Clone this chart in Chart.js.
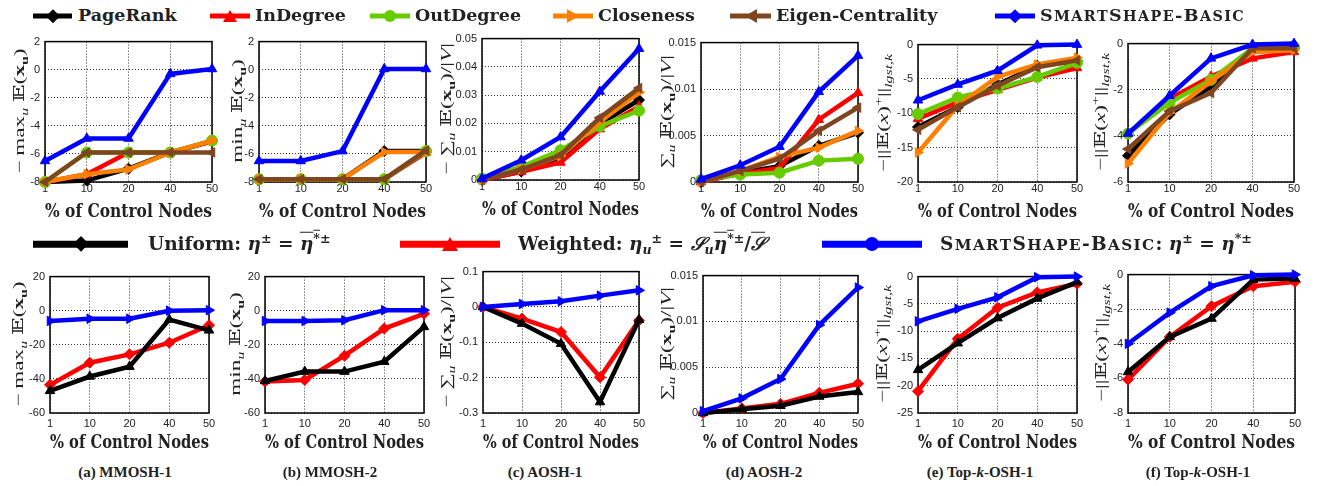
<!DOCTYPE html>
<html><head><meta charset="utf-8">
<script src="https://cdn.jsdelivr.net/npm/chart.js@4.4.0/dist/chart.umd.min.js"></script>
<style>
body{margin:0;width:1327px;height:486px;background:#fff;position:relative;overflow:hidden;color:#222}
canvas{position:absolute}
.lg{position:absolute;font-family:"DejaVu Serif",serif;font-weight:bold;font-size:17.5px;white-space:nowrap;line-height:1;transform:translateY(-50%);color:#222}
.lg2{font-size:18.5px}
.ln{position:absolute;transform:translateY(-50%)}
.mk{position:absolute;transform:translate(-50%,-50%)}
.yl{position:absolute;font-family:"Liberation Serif","DejaVu Serif",serif;font-size:15px;white-space:nowrap;transform:translate(-50%,-50%) rotate(-90deg) scaleX(1.55);color:#222;line-height:1}
.yl sub,.yl sup,.lg sub,.lg sup{font-size:0.68em;line-height:0}
.cap{position:absolute;font-family:"Liberation Serif",serif;font-weight:bold;font-size:15px;white-space:nowrap;transform:translate(-50%,-50%);color:#222}
.ov{text-decoration:overline}
.sc{font-size:0.82em}
.scw{letter-spacing:1.4px}
</style></head><body>
<script>
// ---------- data ----------
const xLabels = ['1', '10', '20', '40', '50'];
const methodNames = ['PageRank', 'InDegree', 'OutDegree', 'Closeness', 'Eigen-Centrality', 'SmartShape-Basic'];
const shapeNames = ['Uniform', 'Weighted', 'SmartShape-Basic'];
const captions = ['(a) MMOSH-1', '(b) MMOSH-2', '(c) AOSH-1', '(d) AOSH-2', '(e) Top-<i>k</i>-OSH-1', '(f) Top-<i>k</i>-OSH-1'];

// top row: centrality baselines
const mmosh1PageRank  = [-8, -7.9, -7.05, -5.9, -5.1];
const mmosh1InDegree  = [-8, -7.45, -5.9, -5.9, -5.1];
const mmosh1OutDegree = [-8, -5.9, -5.9, -5.9, -5.05];
const mmosh1Closeness = [-8, -7.45, -7.1, -5.9, -5.05];
const mmosh1Eigen     = [-8, -5.9, -5.9, -5.9, -5.9];
const mmosh1Smart     = [-6.5, -4.9, -4.9, -0.3, 0.05];

const mmosh2PageRank  = [-7.8, -7.8, -7.8, -5.8, -5.8];
const mmosh2InDegree  = [-7.8, -7.8, -7.8, -7.8, -5.9];
const mmosh2OutDegree = [-7.8, -7.8, -7.8, -7.8, -5.8];
const mmosh2Closeness = [-7.8, -7.8, -7.8, -5.87, -5.87];
const mmosh2Eigen     = [-7.8, -7.8, -7.8, -7.8, -5.75];
const mmosh2Smart     = [-6.5, -6.5, -5.8, 0.05, 0.05];

const aosh1PageRank  = [0, 0.003, 0.008, 0.0198, 0.0283];
const aosh1InDegree  = [0, 0.0029, 0.0062, 0.018, 0.026];
const aosh1OutDegree = [0.0005, 0.0047, 0.0105, 0.019, 0.0245];
const aosh1Closeness = [0, 0.0038, 0.0085, 0.0205, 0.031];
const aosh1Eigen     = [0, 0.0037, 0.0088, 0.022, 0.0325];
const aosh1Smart     = [0.0005, 0.007, 0.0152, 0.0313, 0.0464];

const aosh2PageRank  = [0, 0.001, 0.0017, 0.0039, 0.0053];
const aosh2InDegree  = [0, 0.0009, 0.0015, 0.0067, 0.0096];
const aosh2OutDegree = [0.0002, 0.0008, 0.001, 0.0023, 0.0025];
const aosh2Closeness = [0, 0.0012, 0.0027, 0.0037, 0.0055];
const aosh2Eigen     = [0, 0.0012, 0.0025, 0.0055, 0.008];
const aosh2Smart     = [0.0003, 0.0018, 0.0038, 0.0097, 0.0136];

const topk1PageRank  = [-12, -9.1, -5.8, -3.1, -2.4];
const topk1InDegree  = [-10.8, -8.4, -6.6, -4.8, -3.4];
const topk1OutDegree = [-10.1, -7.7, -6.4, -4.7, -2.65];
const topk1Closeness = [-15.7, -8.9, -4.7, -2.9, -1.9];
const topk1Eigen     = [-12.4, -9.1, -6.0, -3.3, -2.3];
const topk1Smart     = [-8.1, -5.8, -3.8, -0.1, 0];

const topk2PageRank  = [-4.86, -3.07, -1.86, -0.2, -0.2];
const topk2InDegree  = [-3.9, -2.4, -1.43, -0.64, -0.36];
const topk2OutDegree = [-3.9, -2.57, -1.57, -0.2, -0.14];
const topk2Closeness = [-5.2, -3.0, -1.64, -0.36, -0.29];
const topk2Eigen     = [-4.57, -2.93, -2.14, -0.2, -0.2];
const topk2Smart     = [-3.9, -2.26, -0.64, -0.04, 0];

// bottom row: shaping strategies
const mmosh1Uniform  = [-47, -38.6, -32.8, -5.2, -11.5];
const mmosh1Weighted = [-43.5, -30.5, -25.6, -18.8, -8.5];
const mmosh1Basic    = [-6, -4.7, -4.7, 0, 0.3];

const mmosh2Uniform  = [-41.2, -35.7, -35.7, -29.9, -9.5];
const mmosh2Weighted = [-41.5, -40.6, -26.4, -10.5, -1.8];
const mmosh2Basic    = [-6, -6, -5.6, 0.3, 0.3];

const aosh1Uniform  = [0, -0.047, -0.104, -0.269, -0.036];
const aosh1Weighted = [0, -0.033, -0.071, -0.199, -0.038];
const aosh1Basic    = [0, 0.0084, 0.016, 0.032, 0.047];

const aosh2Uniform  = [0, 0.0004, 0.0008, 0.0018, 0.0023];
const aosh2Weighted = [0, 0.0005, 0.001, 0.0022, 0.0032];
const aosh2Basic    = [0.0002, 0.0016, 0.0037, 0.0096, 0.0137];

const topk1Uniform  = [-17.1, -12.2, -7.6, -4.0, -1.0];
const topk1Weighted = [-21, -11.4, -5.7, -2.9, -1.3];
const topk1Basic    = [-8.2, -5.9, -3.8, -0.1, 0];

const topk2Uniform  = [-5.63, -3.6, -2.54, -0.29, -0.23];
const topk2Weighted = [-6.07, -3.6, -1.83, -0.67, -0.42];
const topk2Basic    = [-4.0, -2.2, -0.67, -0.04, 0];

// y-axis ranges [min, max, step]
const topRanges = [[-8, 2, 2], [-8, 2, 2], [0, 0.05, 0.01], [0, 0.015, 0.005], [-20, 0, 5], [-6, 0, 2]];
const bottomRanges = [[-60, 20, 20], [-60, 20, 20], [-0.3, 0.1, 0.1], [0, 0.015, 0.005], [-25, 0, 5], [-8, 0, 2]];

// ---------- layout & styles ----------
const topBoxes = [[45,212,40,182],[259,426,40,182],[482,639,37,180],[701,858,41,182],[918,1077,43,182],[1128,1294,42,182]];
const botBoxes = [[50,209,275,413],[265,424,275,413],[483,639,270,413],[703,858,274,413],[918,1077,275,413],[1128,1295,273,413]];
const topYLabX = [19, 237, 446, 666, 883, 1100];
const botYLabX = [18, 235, 446, 666, 882, 1101];
const capX = [125, 330, 545, 764, 980, 1198];

const topStyles = [
  {color:'#000000', point:'rectRot', rot:0, order:5},
  {color:'#ff0000', point:'triangle', rot:0, order:4},
  {color:'#66cc00', point:'circle', rot:0, order:3},
  {color:'#ff8000', point:'triangle', rot:90, order:2},
  {color:'#7f4520', point:'triangle', rot:-90, order:1},
  {color:'#0000ff', point:'triangle', rot:0, order:0}
];
const botStyles = [
  {color:'#000000', point:'triangle', rot:0, order:1},
  {color:'#ff0000', point:'rectRot', rot:0, order:2},
  {color:'#0000ff', point:'triangle', rot:90, order:0}
];

const xu = '𝔼(<b>x<sub>u</sub></b>)';
const yLabels = [
  '−&thinsp;max<sub><i>u</i></sub> ' + xu,
  'min<sub><i>u</i></sub> ' + xu,
  '−&thinsp;∑<sub><i>u</i></sub> ' + xu + '/|<i>V</i>|',
  '∑<sub><i>u</i></sub> ' + xu + '/|<i>V</i>|',
  '−||𝔼(<i>x</i>)<sup>+</sup>||<sub><i>lgst,k</i></sub>',
  '−||𝔼(<i>x</i>)<sup>+</sup>||<sub><i>lgst,k</i></sub>'
];

const topSeries = [
  [mmosh1PageRank, mmosh1InDegree, mmosh1OutDegree, mmosh1Closeness, mmosh1Eigen, mmosh1Smart],
  [mmosh2PageRank, mmosh2InDegree, mmosh2OutDegree, mmosh2Closeness, mmosh2Eigen, mmosh2Smart],
  [aosh1PageRank, aosh1InDegree, aosh1OutDegree, aosh1Closeness, aosh1Eigen, aosh1Smart],
  [aosh2PageRank, aosh2InDegree, aosh2OutDegree, aosh2Closeness, aosh2Eigen, aosh2Smart],
  [topk1PageRank, topk1InDegree, topk1OutDegree, topk1Closeness, topk1Eigen, topk1Smart],
  [topk2PageRank, topk2InDegree, topk2OutDegree, topk2Closeness, topk2Eigen, topk2Smart]
];
const botSeries = [
  [mmosh1Uniform, mmosh1Weighted, mmosh1Basic],
  [mmosh2Uniform, mmosh2Weighted, mmosh2Basic],
  [aosh1Uniform, aosh1Weighted, aosh1Basic],
  [aosh2Uniform, aosh2Weighted, aosh2Basic],
  [topk1Uniform, topk1Weighted, topk1Basic],
  [topk2Uniform, topk2Weighted, topk2Basic]
];

const boxPlugin = {
  id: 'box',
  beforeDatasetsDraw(c) {
    const {ctx, chartArea: a} = c;
    ctx.save();
    ctx.strokeStyle = '#000';
    ctx.lineWidth = 1.5;
    ctx.strokeRect(a.left, a.top, a.right - a.left, a.bottom - a.top);
    ctx.restore();
  }
};

function fmt(v) { return String(parseFloat(Number(v).toFixed(6))); }

function makeChart(box, range, series, names, styles, tickPad) {
  const [L, R, T, B] = box;
  const padL = 40, padR = 14, padT = 10, axH = 45;
  const w = R - L + padL + padR, h = B - T + padT + axH;
  const cv = document.createElement('canvas');
  cv.width = w; cv.height = h;
  cv.style.left = (L - padL) + 'px';
  cv.style.top = (T - padT) + 'px';
  cv.style.width = w + 'px'; cv.style.height = h + 'px';
  document.body.appendChild(cv);
  const datasets = series.map((d, i) => ({
    label: names[i],
    data: d,
    borderColor: styles[i].color,
    backgroundColor: styles[i].color,
    borderWidth: 4.5,
    pointStyle: styles[i].point,
    pointRotation: styles[i].rot,
    pointRadius: 5.5,
    pointBorderWidth: 1,
    order: styles[i].order,
    tension: 0,
    clip: false
  }));
  new Chart(cv, {
    type: 'line',
    data: {labels: xLabels, datasets},
    plugins: [boxPlugin],
    options: {
      responsive: false, animation: false, devicePixelRatio: 1,
      layout: {padding: {left: 0, right: padR, top: padT, bottom: 0}},
      plugins: {legend: {display: false}, tooltip: {enabled: false}},
      scales: {
        x: {
          type: 'category', offset: false,
          ticks: {padding: tickPad, color: '#222', maxRotation: 0, autoSkip: false,
                  font: {family: 'Liberation Sans', size: 11}},
          grid: {color: 'rgba(0,0,0,0.8)', lineWidth: 1, drawTicks: false},
          border: {display: false, dash: [1, 2]},
          title: {display: true, text: '% of Control Nodes', color: '#222',
                  font: {family: 'DejaVu Serif', weight: 'bold', size: 18},
                  padding: {top: 0, bottom: 4}},
          afterFit(s) { s.height = axH; }
        },
        y: {
          min: range[0], max: range[1],
          ticks: {stepSize: range[2], padding: 5, color: '#222',
                  font: {family: 'Liberation Sans', size: 11}, callback: v => fmt(v)},
          grid: {color: 'rgba(0,0,0,0.8)', lineWidth: 1, drawTicks: false},
          border: {display: false, dash: [1, 2]},
          afterFit(s) { s.width = padL; }
        }
      }
    }
  });
}

function addYLabel(x, box, html) {
  const d = document.createElement('div');
  d.className = 'yl';
  d.style.left = x + 'px';
  d.style.top = ((box[2] + box[3]) / 2) + 'px';
  d.innerHTML = html;
  document.body.appendChild(d);
}

for (let i = 0; i < 6; i++) {
  makeChart(topBoxes[i], topRanges[i], topSeries[i], methodNames, topStyles, 0);
  makeChart(botBoxes[i], bottomRanges[i], botSeries[i], shapeNames, botStyles, 4);
  addYLabel(topYLabX[i], topBoxes[i], yLabels[i]);
  addYLabel(botYLabX[i], botBoxes[i], yLabels[i]);
  const c = document.createElement('div');
  c.className = 'cap';
  c.style.left = capX[i] + 'px'; c.style.top = '472px';
  c.innerHTML = captions[i];
  document.body.appendChild(c);
}

// ---------- legends ----------
function marker(type, color, size) {
  const m = document.createElement('div');
  m.className = 'mk';
  const s = size;
  if (type === 'rectRot') {
    m.style.width = s * 0.8 + 'px'; m.style.height = s * 0.8 + 'px';
    m.style.background = color; m.style.transform = 'translate(-50%,-50%) rotate(45deg)';
  } else if (type === 'circle') {
    m.style.width = s + 'px'; m.style.height = s + 'px';
    m.style.background = color; m.style.borderRadius = '50%';
  } else if (type === 'up') {
    m.style.width = 0; m.style.height = 0;
    m.style.borderLeft = (s*0.6) + 'px solid transparent';
    m.style.borderRight = (s*0.6) + 'px solid transparent';
    m.style.borderBottom = s + 'px solid ' + color;
  } else if (type === 'right') {
    m.style.width = 0; m.style.height = 0;
    m.style.borderTop = (s*0.6) + 'px solid transparent';
    m.style.borderBottom = (s*0.6) + 'px solid transparent';
    m.style.borderLeft = s + 'px solid ' + color;
  } else if (type === 'left') {
    m.style.width = 0; m.style.height = 0;
    m.style.borderTop = (s*0.6) + 'px solid transparent';
    m.style.borderBottom = (s*0.6) + 'px solid transparent';
    m.style.borderRight = s + 'px solid ' + color;
  }
  return m;
}
function legendItem(x0, x1, y, thick, color, mtype, msize, textX, html, extraCls) {
  const l = document.createElement('div');
  l.className = 'ln';
  l.style.left = x0 + 'px'; l.style.width = (x1 - x0) + 'px';
  l.style.top = y + 'px'; l.style.height = thick + 'px'; l.style.background = color;
  document.body.appendChild(l);
  const m = marker(mtype, color, msize);
  m.style.left = ((x0 + x1) / 2) + 'px'; m.style.top = y + 'px';
  document.body.appendChild(m);
  const t = document.createElement('div');
  t.className = 'lg' + (extraCls ? ' ' + extraCls : '');
  t.style.left = textX + 'px'; t.style.top = y + 'px';
  t.innerHTML = html;
  document.body.appendChild(t);
}
const smartCaps = '<span class="scw">S<span class="sc">MART</span>S<span class="sc">HAPE</span>-B<span class="sc">ASIC</span></span>';
const topLegendText = ['PageRank', 'InDegree', 'OutDegree', 'Closeness', 'Eigen-Centrality', smartCaps];
const topLegendMarks = ['rectRot', 'up', 'circle', 'right', 'left', 'rectRot'];
const topLegendPos = [[33,72,78],[210,250,255],[370,410,415],[553,593,598],[730,771,776],[995,1035,1040]];
for (let i = 0; i < 6; i++) {
  const p = topLegendPos[i];
  legendItem(p[0], p[1], 16, 5, topStyles[i].color, topLegendMarks[i], 12, p[2], topLegendText[i]);
}
const eta = '<b><i>η</i></b>';
const etaStar = '<span class="ov">' + eta + '<sup><b>*</b></sup></span>';
const botLegendText = [
  'Uniform: ' + eta + '<sup>±</sup> = ' + etaStar + '<sup>±</sup>',
  'Weighted: ' + eta + '<sub><i>u</i></sub><sup>±</sup> = <i>𝒮</i><sub><i>u</i></sub>' + etaStar + '<sup>±</sup>/<span class="ov"><i>𝒮</i></span>',
  smartCaps + ': ' + eta + '<sup>±</sup> = ' + eta + '<sup><b>*</b>±</sup>'
];
const botLegendMarks = ['rectRot', 'up', 'circle'];
const botLegendPos = [[33,128,148],[400,500,518],[822,922,940]];
for (let i = 0; i < 3; i++) {
  const p = botLegendPos[i];
  legendItem(p[0], p[1], 244, 6.5, botStyles[i].color, botLegendMarks[i], 14, p[2], botLegendText[i], 'lg2');
}
</script>
</body></html>
